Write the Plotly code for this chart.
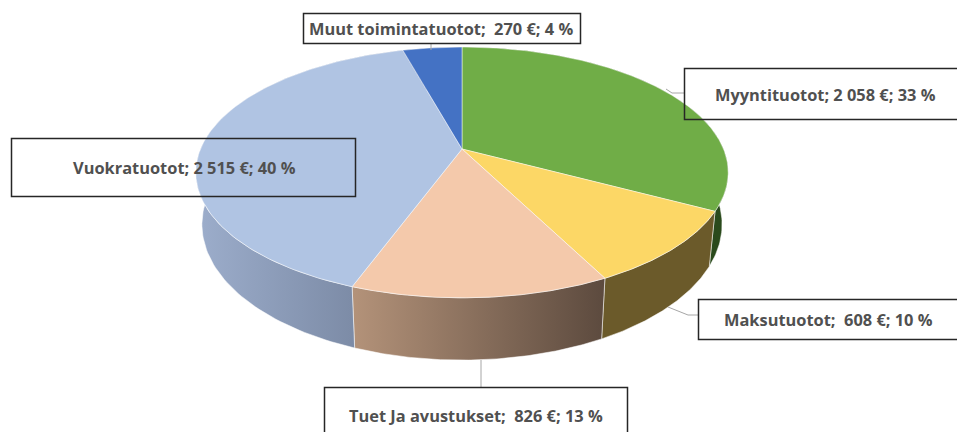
import numpy as np
import plotly.graph_objects as go

# Data
categories = ["Myyntituotot", "Maksutuotot", "Tuet Ja avustukset", "Vuokratuotot", "Muut toimintatuotot"]
values = [2058, 608, 826, 2515, 270]
value_labels = ["Myyntituotot; 2\u00a0058 €; 33 %", "Maksutuotot;\u00a0\u00a0608 €; 10 %",
                "Tuet Ja avustukset;\u00a0\u00a0826 €; 13 %", "Vuokratuotot; 2\u00a0515 €; 40 %",
                "Muut toimintatuotot;\u00a0\u00a0270 €; 4 %"]

# Styles
top_colors = ["#70AD47", "#FCD766", "#F4C9AB", "#B0C4E3", "#4472C4"]
wall_colors = [("#2A4A1C", "#2A4A1C"), ("#6B5A2A", "#6B5A2A"), ("#B39279", "#5C4A3E"),
               ("#9CADCB", "#7C8BA6"), ("#334F85", "#334F85")]
wall_span = [(700, 730), (600, 715), (354, 605), (198, 356), (400, 462)]

# Projection of the pie: a disc seen in perspective
CX, PERSP = 462.0, 0.187
TOP = dict(cy=149.0, ax=261.5, ay=121.0)
BOTTOM = dict(cy=199.0, ax=255.5, ay=131.0)


def project(theta, plane):
    u, v = np.sin(theta), -np.cos(theta)
    den = 1 - PERSP * v
    return CX + plane["ax"] * u / den, plane["cy"] + plane["ay"] * v / den


fractions = np.array(values, dtype=float) / sum(values)
edges = np.concatenate([[0.0], np.cumsum(fractions)]) * 2 * np.pi

fig = go.Figure()

# Outer walls, drawn first so that the top faces hide their back parts
for i in range(len(values)):
    th = np.linspace(edges[i], edges[i + 1], 120)
    xt, yt = project(th, TOP)
    xb, yb = project(th[::-1], BOTTOM)
    fig.add_trace(go.Scatter(
        x=np.concatenate([xt, xb, xt[:1]]), y=np.concatenate([yt, yb, yt[:1]]),
        mode="lines", fill="toself", line=dict(color="rgba(255,255,255,0.65)", width=0.8),
        fillgradient=dict(type="horizontal", start=wall_span[i][0], stop=wall_span[i][1],
                          colorscale=[[0, wall_colors[i][0]], [1, wall_colors[i][1]]]),
        hoverinfo="skip", showlegend=False))

# Top faces
for i, cat in enumerate(categories):
    th = np.linspace(edges[i], edges[i + 1], 160)
    x, y = project(th, TOP)
    fig.add_trace(go.Scatter(
        x=np.concatenate([[CX], x, [CX]]), y=np.concatenate([[TOP["cy"]], y, [TOP["cy"]]]),
        mode="lines", fill="toself", fillcolor=top_colors[i],
        line=dict(color="rgba(255,255,255,0.6)", width=0.8),
        name=cat, text=value_labels[i], hoverinfo="text", showlegend=False))

# Label boxes (transparent, black border) and leader lines
boxes = [(684.5, 68.5, 959, 119.5), (698.5, 299.5, 959, 339.5), (324.5, 387.5, 627.5, 436),
         (11.5, 138.5, 355.5, 196.5), (303.5, 13.5, 580.5, 43.5)]
text_pos = [(825, 94), (828, 319), (476, 415), (184, 167), (441, 28)]
leaders = ["M 684 93 L 672 93 L 666 89", "M 668 307 L 688 315 L 698 315", "M 481 360 L 481 387",
           None, "M 431 43 L 431 50"]

shapes = []
annotations = []
for i in range(len(values)):
    x0, y0, x1, y1 = boxes[i]
    if leaders[i]:
        shapes.append(dict(type="path", path=leaders[i], line=dict(color="#A6A6A6", width=1)))
    shapes.append(dict(type="rect", x0=x0, y0=y0, x1=x1, y1=y1, line=dict(color="#262626", width=1.5)))
    annotations.append(dict(x=text_pos[i][0], y=text_pos[i][1], text=value_labels[i], showarrow=False,
                            xanchor="center", yanchor="middle",
                            font=dict(family="Open Sans", size=16.4, color="#505050", weight=700)))

fig.update_layout(
    width=957, height=432, margin=dict(l=0, r=0, t=0, b=0),
    paper_bgcolor="white", plot_bgcolor="white", showlegend=False,
    xaxis=dict(range=[0, 957], visible=False, fixedrange=True),
    yaxis=dict(range=[432, 0], visible=False, fixedrange=True),
    shapes=shapes, annotations=annotations,
)
fig.write_html("out.html", config={"displayModeBar": False}, post_script="document.body.style.margin='0';")
